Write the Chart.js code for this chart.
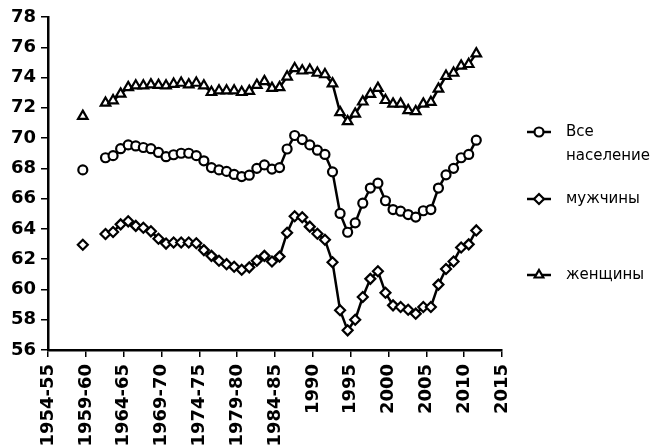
<!DOCTYPE html>
<html>
<head>
<meta charset="utf-8">
<script src="https://cdn.jsdelivr.net/npm/chart.js@4.4.6/dist/chart.umd.js"></script>
<style>
  html, body { margin: 0; padding: 0; background: #fff; }
  #wrap { width: 657px; height: 446px; position: relative; }
</style>
</head>
<body>
<div id="wrap"><canvas id="myChart"></canvas></div>
<script>
// years: 1958-59 is plotted at 1959, the pairs 1961-62 ... 1978-79 at the second year
const years = [1959,
  1962, 1963, 1964, 1965, 1966, 1967, 1968, 1969, 1970, 1971,
  1972, 1973, 1974, 1975, 1976, 1977, 1978, 1979, 1980, 1981,
  1982, 1983, 1984, 1985, 1986, 1987, 1988, 1989, 1990, 1991,
  1992, 1993, 1994, 1995, 1996, 1997, 1998, 1999, 2000, 2001,
  2002, 2003, 2004, 2005, 2006, 2007, 2008, 2009, 2010, 2011];

const total = [67.9,
  68.7, 68.84, 69.3, 69.55, 69.48, 69.38, 69.3, 69.05, 68.77, 68.9,
  69.0, 69.0, 68.84, 68.5, 68.05, 67.9, 67.8, 67.6, 67.46, 67.55,
  68.0, 68.23, 67.95, 68.05, 69.28, 70.17, 69.9, 69.55, 69.2, 68.92,
  67.77, 65.02, 63.78, 64.4, 65.7, 66.7, 67.02, 65.86, 65.28, 65.17,
  64.95, 64.78, 65.2, 65.28, 66.7, 67.57, 68.0, 68.7, 68.92, 69.86];

const male = [62.95,
  63.66, 63.8, 64.3, 64.5, 64.2, 64.08, 63.84, 63.35, 63.03, 63.1,
  63.1, 63.1, 63.05, 62.6, 62.22, 61.9, 61.67, 61.5, 61.3, 61.46,
  61.9, 62.22, 61.85, 62.17, 63.75, 64.84, 64.77, 64.15, 63.68, 63.28,
  61.8, 58.63, 57.3, 58.0, 59.5, 60.7, 61.2, 59.78, 58.95, 58.84,
  58.66, 58.4, 58.84, 58.84, 60.32, 61.35, 61.85, 62.77, 62.98, 63.9];

const female = [71.45,
  72.32, 72.48, 72.92, 73.35, 73.46, 73.46, 73.53, 73.5, 73.46, 73.57,
  73.64, 73.53, 73.64, 73.46, 73.03, 73.13, 73.13, 73.13, 73.03, 73.1,
  73.5, 73.75, 73.3, 73.35, 74.05, 74.6, 74.45, 74.5, 74.3, 74.2,
  73.6, 71.7, 71.1, 71.6, 72.4, 72.9, 73.3, 72.5, 72.26, 72.26,
  71.83, 71.76, 72.26, 72.37, 73.25, 74.1, 74.3, 74.77, 74.88, 75.58];

const xTickLabels = ['1954-55', '1959-60', '1964-65', '1969-70', '1974-75', '1979-80',
  '1984-85', '1990', '1995', '2000', '2005', '2010', '2015'];

const seriesNames = ['Все население', 'мужчины', 'женщины'];
const pointStyles = ['circle', 'rectRot', 'triangle'];

const X_MIN = 1954.4;
const X_MAX = 2014.4;

function makeSet(label, values, style, radius) {
  return {
    label: label,
    data: years.map((y, i) => ({ x: y, y: values[i] })),
    borderColor: '#000',
    borderWidth: 2.5,
    pointStyle: style,
    pointRadius: radius,
    pointBorderWidth: 2.2,
    pointBackgroundColor: '#fff',
    pointBorderColor: '#000',
    tension: 0,
    segment: {
      // no line between the isolated 1958-59 point and the yearly series
      borderColor: ctx => (ctx.p1.parsed.x - ctx.p0.parsed.x > 1.5 ? 'rgba(0,0,0,0)' : '#000')
    }
  };
}

// legend drawn at the right, like the original
const sideLegend = {
  id: 'sideLegend',
  afterDraw(chart) {
    const ctx = chart.ctx;
    const rows = [132, 199, 275];
    ctx.save();
    rows.forEach((y, i) => {
      ctx.strokeStyle = '#000';
      ctx.lineWidth = 2.5;
      ctx.beginPath();
      ctx.moveTo(527, y);
      ctx.lineTo(551, y);
      ctx.stroke();
      ctx.fillStyle = '#fff';
      ctx.lineWidth = 2.2;
      Chart.helpers.drawPoint(ctx, { pointStyle: pointStyles[i], radius: i === 0 ? 4.5 : 5, rotation: 0, borderWidth: 2.2 }, 539, y);
      ctx.fillStyle = '#000';
      ctx.font = '15px "DejaVu Sans"';
      ctx.textBaseline = 'middle';
      ctx.textAlign = 'left';
      if (i === 0) {
        ctx.fillText('Все', 566, y);
        ctx.fillText('население', 566, y + 24);
      } else {
        ctx.fillText(seriesNames[i], 566, y);
      }
    });
    ctx.restore();
  }
};

const tickFont = { family: 'DejaVu Sans', size: 18, weight: 'bold' };

const ctx = document.getElementById('myChart').getContext('2d');
const lifeChart = new Chart(ctx, {
  type: 'line',
  data: {
    datasets: [
      makeSet(seriesNames[0], total, 'circle', 4.5),
      makeSet(seriesNames[1], male, 'rectRot', 5),
      makeSet(seriesNames[2], female, 'triangle', 5.5)
    ]
  },
  options: {
    animation: false,
    responsive: true,
    maintainAspectRatio: false,
    layout: { padding: { top: 17, right: 155, left: 0, bottom: 0 } },
    plugins: {
      legend: { display: false },
      tooltip: { enabled: false }
    },
    scales: {
      x: {
        type: 'linear',
        min: X_MIN,
        max: X_MAX,
        afterBuildTicks: scale => {
          scale.ticks = xTickLabels.map((l, i) => ({ value: X_MIN + 5 * i }));
        },
        afterFit: scale => { scale.height = 96; },
        ticks: {
          autoSkip: false,
          minRotation: 90,
          maxRotation: 90,
          padding: 7,
          color: '#000',
          font: tickFont,
          callback: (v, i) => xTickLabels[i]
        },
        grid: { drawOnChartArea: false, color: '#000', lineWidth: 1.5, tickLength: 7 },
        border: { color: '#000', width: 2.5 }
      },
      y: {
        min: 56,
        max: 78,
        afterFit: scale => { scale.width = 48; },
        ticks: {
          stepSize: 2,
          padding: 5,
          color: '#000',
          font: tickFont
        },
        grid: { drawOnChartArea: false, color: '#000', lineWidth: 1.5, tickLength: 7 },
        border: { color: '#000', width: 2.5 }
      }
    }
  },
  plugins: [sideLegend]
});
</script>
</body>
</html>
